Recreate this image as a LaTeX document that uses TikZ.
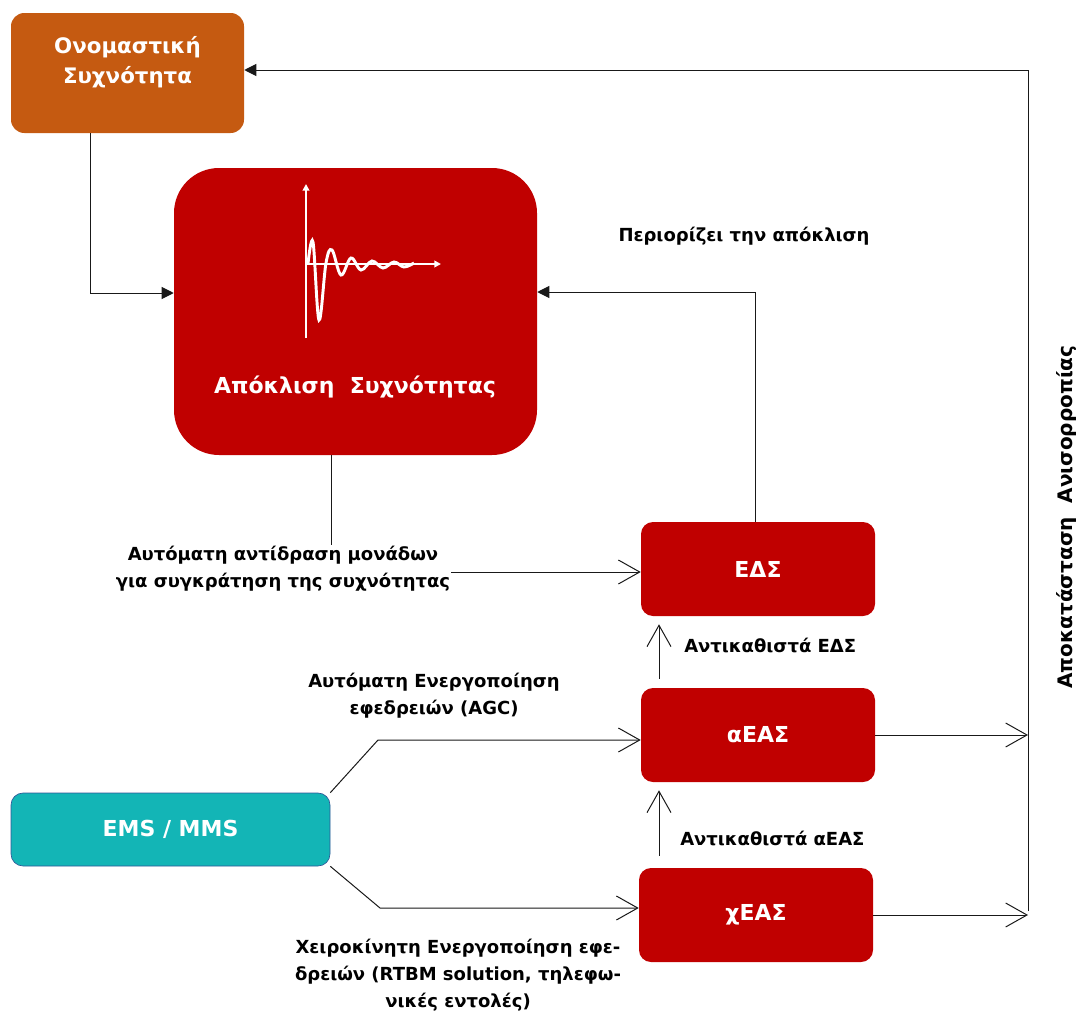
\documentclass[tikz,border=0pt]{standalone}
\usepackage{fontspec}
\setmainfont{DejaVu Sans}
\usetikzlibrary{arrows.meta}
\usepackage{xcolor}

\begin{document}
\begin{tikzpicture}[x=0.75pt,y=0.75pt,yscale=-1,xscale=1,
  redbox/.style={fill={rgb, 255:red, 192; green, 0; blue, 0}, rounded corners=9pt, minimum width=175.5pt, minimum height=70.5pt, inner sep=0pt, text=white, font=\bfseries\fontsize{16.5}{20}\selectfont},
  lbl/.style={font=\bfseries\fontsize{13.5}{20}\selectfont, align=center, inner sep=0.75pt},
  conn/.style={draw={rgb, 255:red, 25; green, 25; blue, 25}, line width=0.75pt},
  openarrow/.style={conn, -{Straight Barb[length=16pt,width=18pt]}},
  fillarrow/.style={conn, -{Triangle[length=9pt,width=9pt]}}
]
\useasboundingbox (0,0) rectangle (1076,1014);

%Shape: Rounded Rect
\node (nom) [fill={rgb, 255:red, 197; green, 90; blue, 17}, rounded corners=10pt, minimum width=174.75pt, minimum height=90pt] at (127.5,73) {};
%Shape: Rounded Rect
\node (dev) [redbox, rounded corners=33.75pt, minimum width=272.25pt, minimum height=215.25pt] at (355.5,311.5) {};
%Shape: Rounded Rect
\node (eds) [redbox] at (758,569) {ΕΔΣ};
%Shape: Rounded Rect
\node (aeas) [redbox] at (758,735) {αΕΑΣ};
%Shape: Rounded Rect
\node (xeas) [redbox] at (756,915) {χΕΑΣ};
%Shape: Rounded Rect
\node (ems) [redbox, fill={rgb, 255:red, 19; green, 181; blue, 182}, draw={rgb, 255:red, 47; green, 85; blue, 151}, line width=0.5pt, minimum width=239.25pt, minimum height=54.75pt] at (170.5,829.5) {EMS / MMS};

% Text Node
\node (nomtxt) [font=\bfseries\fontsize{16}{22.5}\selectfont, text=white, align=center] at (127.5,62) {Ονομαστική\\Συχνότητα};
% Text Node
\node (devtxt) [font=\bfseries\fontsize{16.5}{20}\selectfont, text=white] at (355,387) {Απόκλιση~~Συχνότητας};

%Waveform
\draw [white, line width=1.5pt, -{Triangle[length=5pt,width=5pt]}] (306,338) -- (306,184) ;
\draw [white, line width=1.5pt, -{Triangle[length=5pt,width=5pt]}] (306,264) -- (441,264) ;
\draw [white, line width=2.2pt] plot [smooth, tension=0.6] coordinates {(308,264) (313,242) (319,320) (326,263) (332,250) (341,275) (351,258) (361,270) (372,261) (383,268) (394,262) (404,267) (414,263)};

% Text Node
\node (limit) [lbl] at (744,236) {Περιορίζει την απόκλιση};
% Text Node
\node (auto) [lbl] at (283,569) {Αυτόματη αντίδραση μονάδων\\για συγκράτηση της συχνότητας};
% Text Node
\node (repeds) [lbl, anchor=west] at (683,645) {Αντικαθιστά ΕΔΣ};
% Text Node
\node (repaeas) [lbl, anchor=west] at (679,838) {Αντικαθιστά αΕΑΣ};
% Text Node
\node (agc) [lbl] at (434,696) {Αυτόματη Ενεργοποίηση\\εφεδρειών (AGC)};
% Text Node
\node (manual) [lbl] at (458,975) {Χειροκίνητη Ενεργοποίηση εφε-\\δρειών (RTBM solution, τηλεφω-\\νικές εντολές)};
% Text Node
\node (restore) [lbl, font=\bfseries\fontsize{15}{18}\selectfont, rotate=90] at (1067,517) {Αποκατάσταση~~Ανισορροπίας};

\coordinate (rt) at (1028,70);
\coordinate (rb) at (1028,911);
\coordinate (agcbend) at (378,740);
\coordinate (manbend) at (380,908);

%Straight Lines
\draw [fillarrow] (nom.south -| 90,0) |- (dev.west |- 0,293) ;
%Straight Lines
\draw [conn] (rb) -- (rt) ;
\draw [fillarrow] (rt) -- (nom.east |- rt) ;
%Straight Lines
\draw [fillarrow] (eds.north -| 755,0) |- (dev.east |- 0,292) ;
%Straight Lines
\draw [conn] (dev.south -| 331,0) -- (auto.north -| 331,0) ;
\draw [openarrow] (auto.east |- 0,572) -- (eds.west |- 0,572) ;
%Straight Lines
\draw [openarrow, shorten >=6pt] (aeas.north -| 659,0) ++(0,-9) -- (eds.south -| 659,0) ;
\draw [openarrow, shorten >=6pt] (xeas.north -| 659,0) ++(0,-12) -- (aeas.south -| 659,0) ;
%Straight Lines
\draw [openarrow] (ems.north east) -- (agcbend) -- (aeas.west |- agcbend) ;
\draw [openarrow] (ems.south east) -- (manbend) -- (xeas.west |- manbend) ;
%Straight Lines
\draw [openarrow] (aeas.east) -- (aeas.east -| rt) ;
\draw [openarrow] (xeas.east) -- (xeas.east -| rt) ;

\end{tikzpicture}
\end{document}
